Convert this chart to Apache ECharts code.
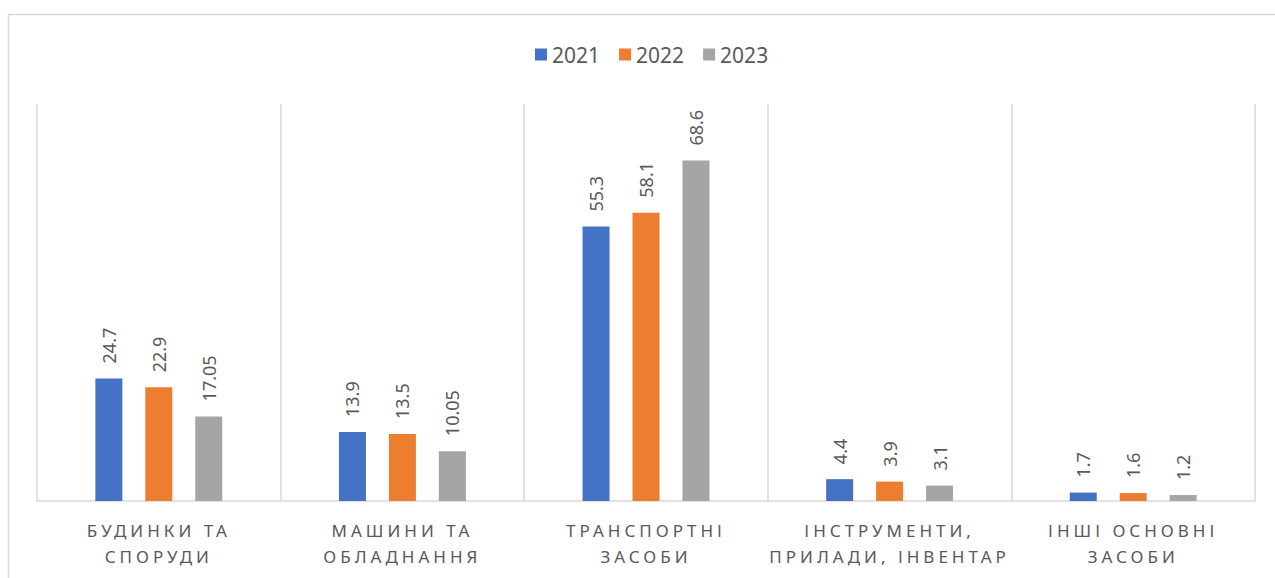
<!DOCTYPE html>
<html>
<head>
<meta charset="utf-8">
<script src="https://cdn.jsdelivr.net/npm/echarts@6/dist/echarts.min.js"></script>
<style>
  html, body { margin: 0; padding: 0; background: #fff; }
  #main { width: 1275px; height: 578px; }
  /* підписи категорій у Excel мають розріджений шрифт */
  #main svg text[style*="17px"] { letter-spacing: 4px; }
</style>
</head>
<body>
<div id="main"></div>
<script>
// категорії основних засобів
var categories = ['БУДИНКИ ТА\nСПОРУДИ', 'МАШИНИ ТА\nОБЛАДНАННЯ', 'ТРАНСПОРТНІ\nЗАСОБИ', 'ІНСТРУМЕНТИ,\nПРИЛАДИ, ІНВЕНТАР', 'ІНШІ ОСНОВНІ\nЗАСОБИ'];
var years = ['2021', '2022', '2023'];
var data2021 = [24.7, 13.9, 55.3, 4.4, 1.7];
var data2022 = [22.9, 13.5, 58.1, 3.9, 1.6];
var data2023 = [17.05, 10.05, 68.6, 3.1, 1.2];
var colors = ['#4472C4', '#ED7D31', '#A5A5A5'];

var textColor = '#595959';
var fontFamily = '"Noto Sans", "DejaVu Sans", sans-serif';

var chart = echarts.init(document.getElementById('main'), null, { renderer: 'svg' });

function makeSeries(name, values, color) {
    return {
        name: name,
        type: 'bar',
        data: values,
        barWidth: 27,
        barGap: '85%',
        itemStyle: { color: color },
        label: {
            show: true,
            position: 'top',
            rotate: 90,
            align: 'left',
            verticalAlign: 'middle',
            distance: 15,
            color: textColor,
            fontSize: 18,
            fontFamily: fontFamily
        }
    };
}

var option = {
    animation: false,
    backgroundColor: '#fff',
    graphic: [{
        type: 'rect',
        shape: { x: 8.5, y: 14.5, width: 1300, height: 600 },
        style: { fill: 'none', stroke: '#d9d9d9', lineWidth: 1.5 },
        silent: true
    }],
    legend: {
        top: 39,
        left: 530,
        itemWidth: 12,
        itemHeight: 12,
        itemGap: 19,
        icon: 'rect',
        textStyle: { color: textColor, fontSize: 21, fontFamily: fontFamily },
        data: years
    },
    grid: {
        left: 37,
        right: 20,
        top: 104,
        bottom: 77,
        containLabel: false
    },
    xAxis: {
        type: 'category',
        data: categories,
        axisTick: { show: false },
        axisLine: { show: true, lineStyle: { color: '#d9d9d9', width: 1.5 } },
        splitLine: { show: true, lineStyle: { color: '#d9d9d9', width: 1.5 } },
        axisLabel: {
            color: textColor,
            fontSize: 17,
            fontFamily: fontFamily,
            lineHeight: 26,
            margin: 16,
            interval: 0
        }
    },
    yAxis: {
        type: 'value',
        min: 0,
        max: 80,
        show: false,
        splitLine: { show: false }
    },
    series: [
        makeSeries(years[0], data2021, colors[0]),
        makeSeries(years[1], data2022, colors[1]),
        makeSeries(years[2], data2023, colors[2])
    ]
};

chart.setOption(option);
</script>
</body>
</html>
